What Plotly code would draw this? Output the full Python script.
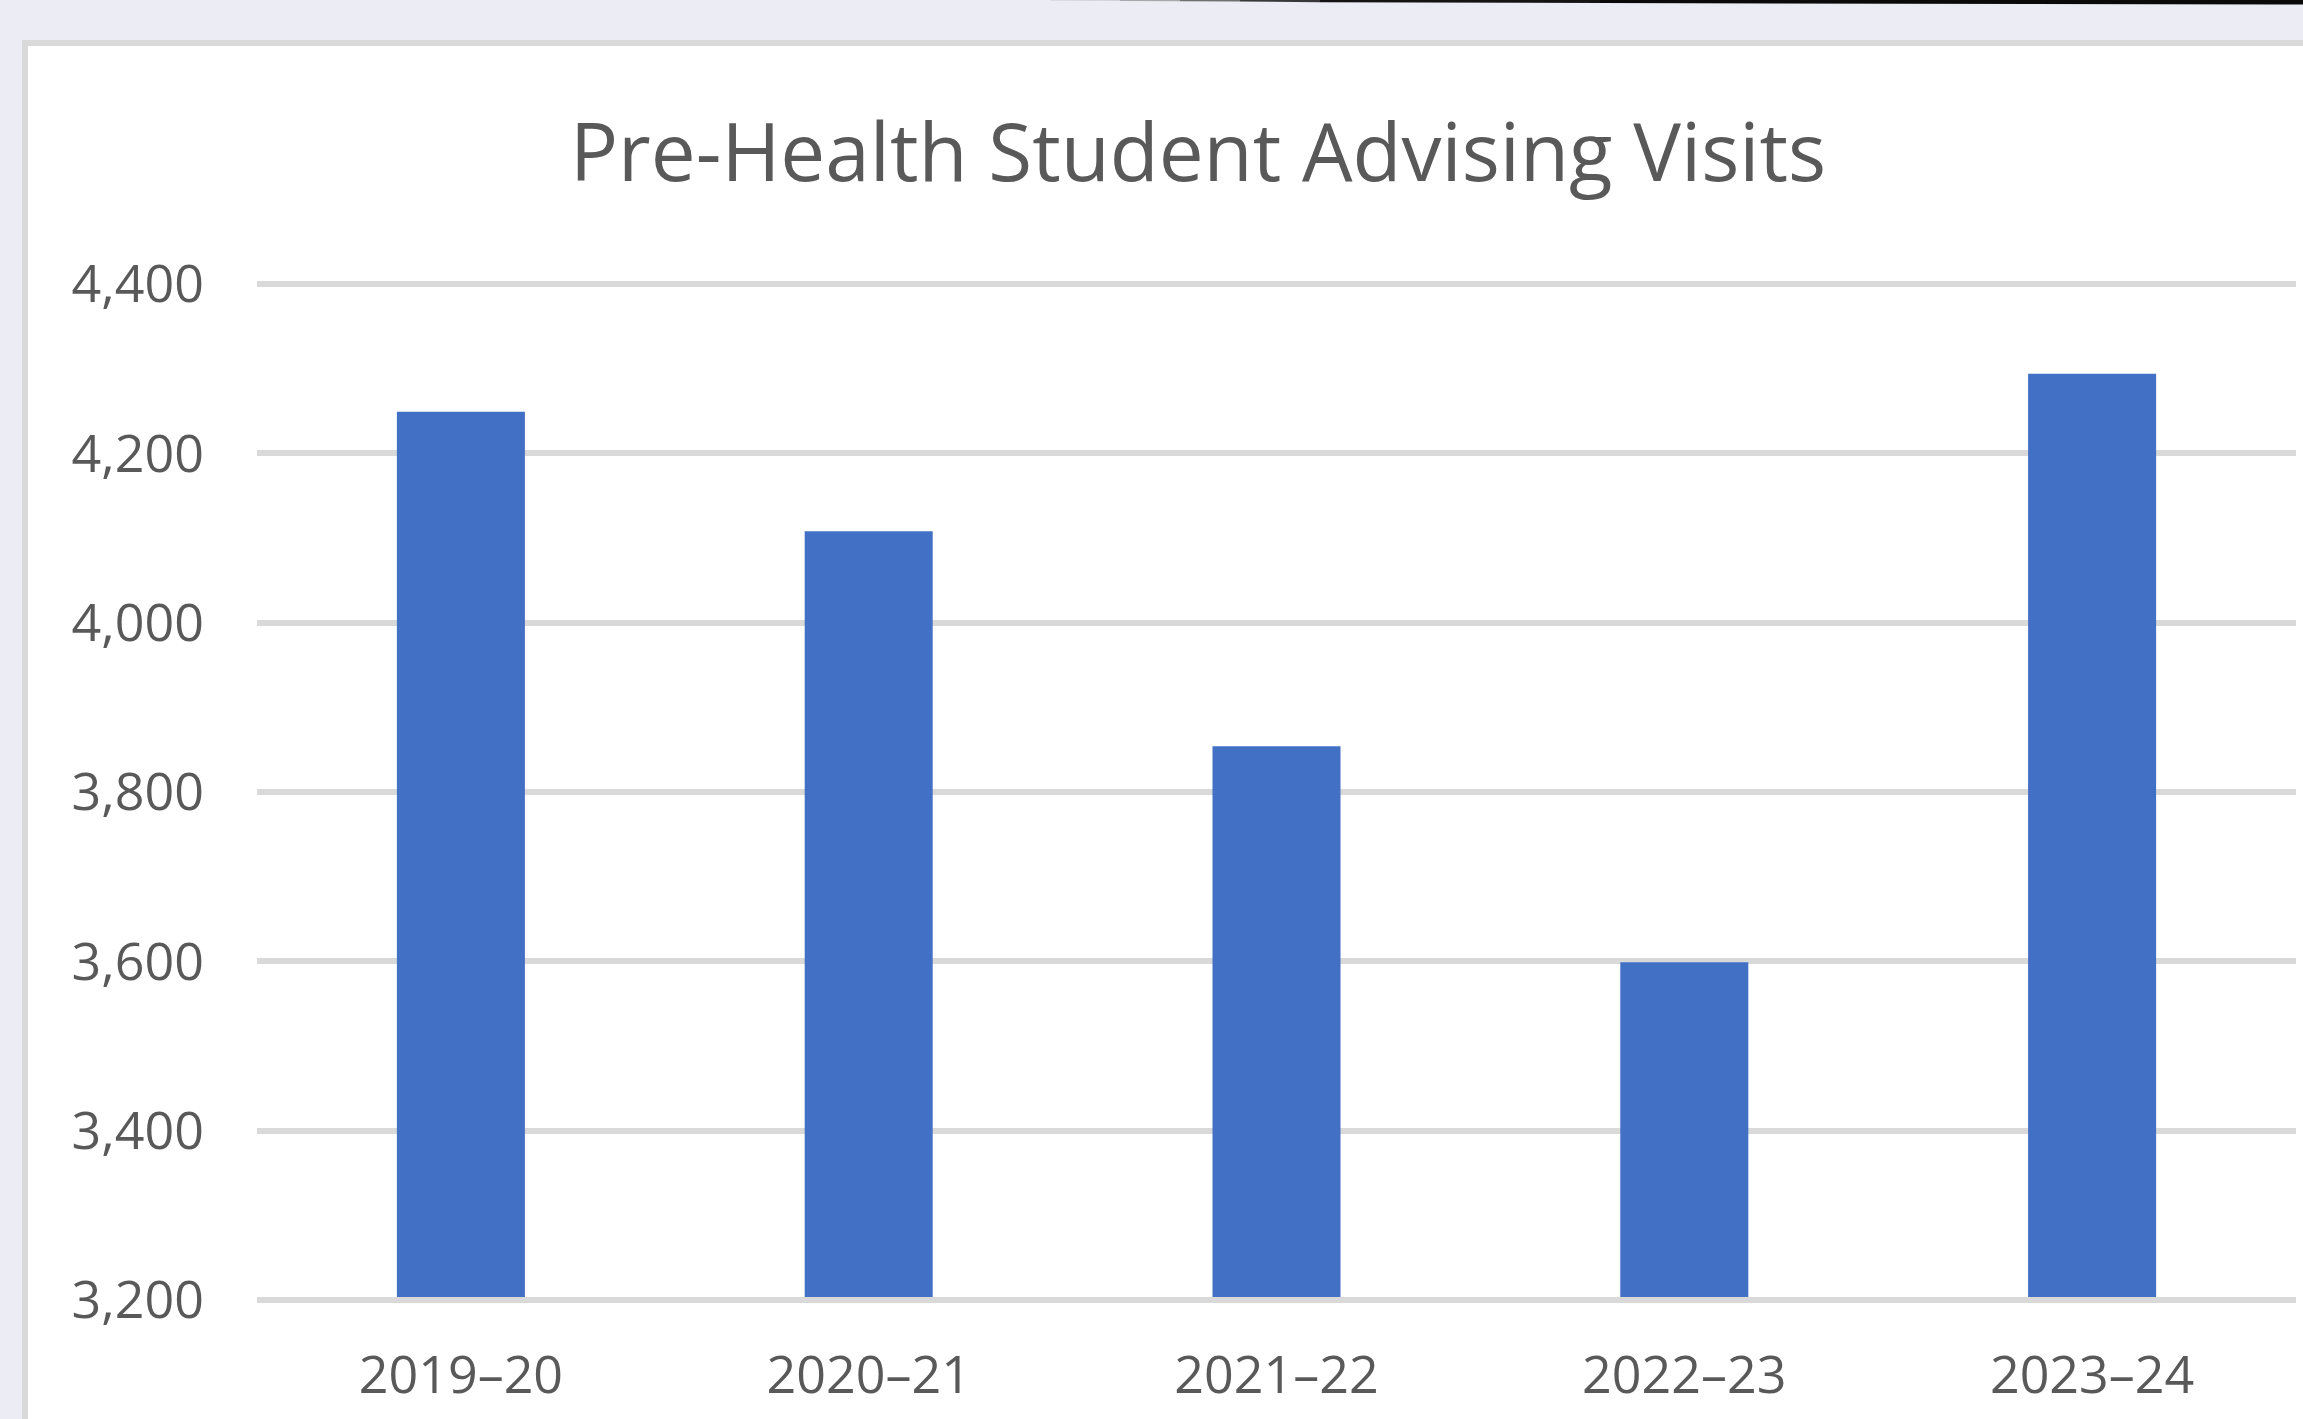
import plotly.graph_objects as go

categories = ["2019–20", "2020–21", "2021–22", "2022–23", "2023–24"]
visits = [4249, 4108, 3854, 3599, 4294]
y_ticks = [3200, 3400, 3600, 3800, 4000, 4200, 4400]
y_tick_labels = ["3,200", "3,400", "3,600", "3,800", "4,000", "4,200", "4,400"]

W, H = 2303, 1419
L, R, T, B = 257, 2296, 284, 1300

def px(x):
    return (x - L) / (R - L)

def py(y):
    return (B - y) / (B - T)

fig = go.Figure(go.Bar(x=categories, y=visits, marker=dict(color="#4270C4", line=dict(width=0))))

shapes = []
# lavender background outside chart frame
shapes.append(dict(type="rect", xref="paper", yref="paper", x0=px(0), x1=px(W), y0=py(0), y1=py(40),
                   fillcolor="#ECECF4", line=dict(width=0), layer="below"))
shapes.append(dict(type="rect", xref="paper", yref="paper", x0=px(0), x1=px(22), y0=py(0), y1=py(H),
                   fillcolor="#ECECF4", line=dict(width=0), layer="below"))
# gray frame border
shapes.append(dict(type="rect", xref="paper", yref="paper", x0=px(22), x1=px(W), y0=py(40), y1=py(46),
                   fillcolor="#D9D9D9", line=dict(width=0), layer="below"))
shapes.append(dict(type="rect", xref="paper", yref="paper", x0=px(22), x1=px(28), y0=py(40), y1=py(H),
                   fillcolor="#D9D9D9", line=dict(width=0), layer="below"))
# dark shadow line at top edge (approximated gradient)
segs = [(1050, 1120, 0.6, 0.9, "#D0D0D6"), (1120, 1180, 0.9, 1.2, "#A8A8AC"),
        (1180, 1240, 1.2, 1.6, "#707070"), (1240, 1320, 1.6, 2.2, "#383838"),
        (1320, 1600, 2.2, 3.0, "#141414"), (1600, 2303, 3.0, 4.5, "#0A0A0A")]
for x0, x1, t0, t1, c in segs:
    path = f"M {px(x0)},{py(0)} L {px(x1)},{py(0)} L {px(x1)},{py(t1)} L {px(x0)},{py(t0)} Z"
    shapes.append(dict(type="path", xref="paper", yref="paper", path=path,
                       fillcolor=c, line=dict(width=0), layer="below"))
# gridlines at the range edges (plotly omits them); paper refs so they are not clipped
shapes.append(dict(type="line", xref="paper", yref="paper", x0=0, x1=1, y0=1, y1=1,
                   line=dict(color="#D9D9D9", width=6), layer="below"))
shapes.append(dict(type="line", xref="paper", yref="paper", x0=0, x1=1, y0=0, y1=0,
                   line=dict(color="#D9D9D9", width=6), layer="above"))

fig.update_layout(
    width=W, height=H,
    margin=dict(l=L, r=W - R, t=T, b=H - B, pad=0),
    paper_bgcolor="white",
    plot_bgcolor="rgba(0,0,0,0)",
    bargap=1 - 128 / 407.75,
    showlegend=False,
    shapes=shapes,
    title=dict(text="Pre-Health Student Advising Visits", x=1198 / W, xanchor="center",
               y=1 - 153 / H, yanchor="middle", xref="container", yref="container",
               font=dict(family="Open Sans", size=80, color="#595959")),
    font=dict(family="Open Sans", color="#595959"),
)
fig.update_yaxes(range=[3200, 4400], tickvals=y_ticks, ticktext=y_tick_labels,
                 showgrid=True, gridcolor="#D9D9D9", gridwidth=6, zeroline=False,
                 showline=False, ticks="", ticklabelstandoff=52,
                 tickfont=dict(family="Open Sans", size=52, color="#595959"))
fig.update_xaxes(showgrid=False, showline=False, ticks="", ticklabelstandoff=40,
                 tickfont=dict(family="Open Sans", size=52, color="#595959"))

fig.write_html("out.html", config={"displayModeBar": False},
               post_script="document.body.style.margin='0';document.body.style.overflow='hidden';"
                           "document.documentElement.style.overflow='hidden';")
